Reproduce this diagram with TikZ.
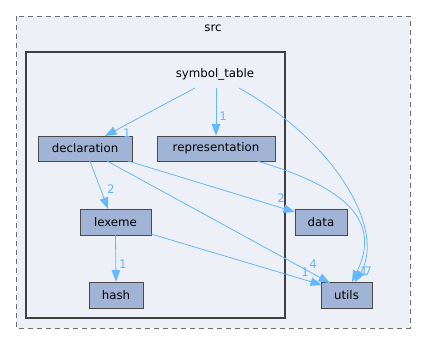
\documentclass[tikz,border=0pt]{standalone}
\usepackage{fontspec}
\setmainfont{DejaVu Sans}
\usetikzlibrary{arrows.meta}
\definecolor{nodefill}{HTML}{A2B4D6}
\definecolor{nodeline}{HTML}{4A4A4A}
\definecolor{edgeblue}{HTML}{63B8FF}
\definecolor{clusterbg}{HTML}{EDF0F7}
\begin{document}
\begin{tikzpicture}[x=1pt,y=-1pt,
  dirbox/.style={draw=nodeline,fill=nodefill,line width=0.8pt,inner sep=0pt,font=\fontsize{11.8}{13}\selectfont},
  dep/.style={draw=edgeblue,line width=0.8pt,-{Triangle[length=11.5pt,width=8.5pt]}},
  cnt/.style={text=edgeblue,font=\fontsize{11.8}{13}\selectfont,inner sep=0pt},
  lbl/.style={font=\fontsize{11.8}{13}\selectfont,inner sep=0pt}]
\useasboundingbox (0,0) rectangle (427,345);
% outer directory: src
\draw[fill=clusterbg,draw=gray!85!black,line width=0.9pt,dash pattern=on 5pt off 4pt] (16,16) rectangle (410,328);
\node[lbl] (src) at (213,28) {src};
% inner directory: symbol_table
\draw[fill=clusterbg,draw=black!75,line width=1.8pt] (26,52) rectangle (285,318);
\node[lbl] (symtab) at (215,74) {symbol\_table};
% directory nodes
\node[dirbox,minimum width=94pt,minimum height=25pt] (decl) at (85,148.5) {declaration};
\node[dirbox,minimum width=118pt,minimum height=25pt] (repr) at (216,148.5) {representation};
\node[dirbox,minimum width=71pt,minimum height=26pt] (lex) at (115.5,222) {lexeme};
\node[dirbox,minimum width=52pt,minimum height=26pt] (data) at (321,222) {data};
\node[dirbox,minimum width=54pt,minimum height=26pt] (hash) at (116,295) {hash};
\node[dirbox,minimum width=51pt,minimum height=26pt] (utils) at (346.5,295) {utils};
% anchors for edge ends
\coordinate (st1) at (195,88);
\coordinate (st2) at (216,88);
\coordinate (st3) at (239,88);
% dependencies
\draw[dep] (st1) -- (105,136);
\node[cnt] at (127,133) {1};
\draw[dep] (st2) -- (repr.north);
\node[cnt] at (223,116) {1};
\draw[dep] (st3) .. controls (340,145) and (385,232) .. (355,282);
\draw[dep] (257,161) .. controls (345,187) and (382,220) .. (352,282);
\node[cnt] at (364,271) {1};
\node[cnt] at (368,271) {7};
\draw[dep] (90,161) -- (108,209);
\node[cnt] at (111,189) {2};
\draw[dep] (128,161) -- (295,212);
\node[cnt] at (281,198) {2};
\draw[dep] (107,161) -- (330,283);
\node[cnt] at (313,264) {4};
\draw[dep] (151,234) -- (322,285);
\node[cnt] at (305,272) {1};
\draw[dep] (lex.south) -- (hash.north);
\node[cnt] at (123,264) {1};
\end{tikzpicture}
\end{document}
